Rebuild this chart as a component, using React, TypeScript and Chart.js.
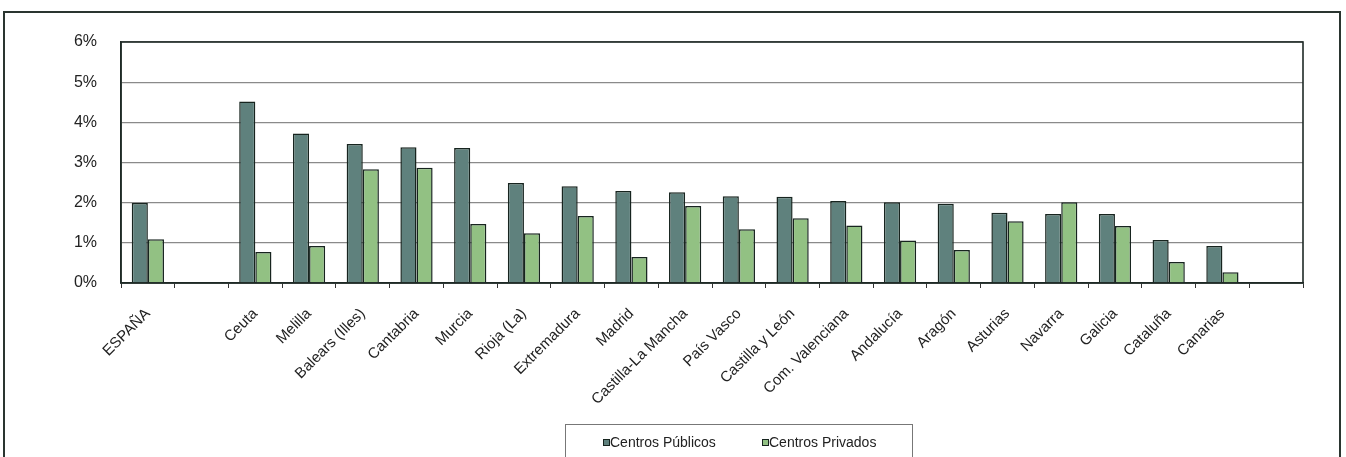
import React, { useEffect, useRef } from "react";
import { Chart, registerables } from "chart.js";

Chart.register(...registerables);

const categories: string[] = [
  "ESPAÑA", "", "Ceuta", "Melilla", "Balears (Illes)", "Cantabria", "Murcia",
  "Rioja (La)", "Extremadura", "Madrid", "Castilla-La Mancha", "País Vasco",
  "Castilla y León", "Com. Valenciana", "Andalucía", "Aragón", "Asturias",
  "Navarra", "Galicia", "Cataluña", "Canarias", "",
];

const publicos: (number | null)[] = [
  1.99, null, 4.52, 3.72, 3.46, 3.38, 3.36, 2.49, 2.41, 2.29, 2.26, 2.16,
  2.15, 2.04, 2.01, 1.97, 1.75, 1.72, 1.72, 1.07, 0.92, null,
];

const privados: (number | null)[] = [
  1.09, null, 0.77, 0.92, 2.83, 2.87, 1.47, 1.24, 1.67, 0.65, 1.92, 1.34,
  1.61, 1.43, 1.06, 0.82, 1.54, 2.01, 1.42, 0.52, 0.27, null,
];

const yTicks: number[] = [0, 1, 2, 3, 4, 5, 6];
const seriesNames: string[] = ["Centros Públicos", "Centros Privados"];

const COLOR_PUB = "#5f817d";
const COLOR_PRIV = "#92c183";
const BORDER = "#17241f";
const FONT = "'Liberation Sans', Arial, sans-serif";

const framePlugin = {
  id: "framePlugin",
  beforeDraw(chart: any) {
    const ctx = chart.ctx;
    ctx.save();
    ctx.fillStyle = "#ffffff";
    ctx.fillRect(0, 0, chart.width, chart.height);
    ctx.restore();
  },
  afterDraw(chart: any) {
    const ctx = chart.ctx;
    const a = chart.chartArea;
    ctx.save();
    // outer frame
    ctx.strokeStyle = "#2a3530";
    ctx.lineWidth = 2;
    ctx.strokeRect(4, 12, 1336, 470);
    // plot area border
    ctx.lineWidth = 1.6;
    ctx.strokeStyle = "#1f2a26";
    ctx.strokeRect(a.left, a.top, a.right - a.left, a.bottom - a.top);
    // legend box
    const lx = 565, ly = 424, lw = 347;
    ctx.lineWidth = 1;
    ctx.strokeStyle = "#777";
    ctx.strokeRect(lx + 0.5, ly + 0.5, lw, 40);
    ctx.font = `14px ${FONT}`;
    ctx.textBaseline = "middle";
    ctx.textAlign = "left";
    const entries = [
      { x: 603, color: COLOR_PUB, label: seriesNames[0] },
      { x: 762, color: COLOR_PRIV, label: seriesNames[1] },
    ];
    entries.forEach((e) => {
      ctx.fillStyle = e.color;
      ctx.fillRect(e.x, 439, 7, 7);
      ctx.strokeStyle = BORDER;
      ctx.strokeRect(e.x + 0.5, 439.5, 6, 6);
      ctx.fillStyle = "#222";
      ctx.fillText(e.label, e.x + 7, 443);
    });
    ctx.restore();
  },
};

export default function App() {
  const ref = useRef<HTMLCanvasElement | null>(null);

  useEffect(() => {
    if (!ref.current) return;
    const chart = new Chart(ref.current, {
      type: "bar",
      data: {
        labels: categories,
        datasets: [
          {
            label: seriesNames[0],
            data: publicos,
            backgroundColor: COLOR_PUB,
            borderColor: BORDER,
            borderWidth: 1.5,
            categoryPercentage: 0.6,
            barPercentage: 1,
          },
          {
            label: seriesNames[1],
            data: privados,
            backgroundColor: COLOR_PRIV,
            borderColor: BORDER,
            borderWidth: 1.5,
            categoryPercentage: 0.6,
            barPercentage: 1,
          },
        ],
      },
      options: {
        animation: false,
        responsive: false,
        maintainAspectRatio: false,
        layout: { padding: { top: 42, right: 43, left: 0, bottom: 29 } },
        plugins: {
          legend: { display: false },
          tooltip: { enabled: false },
          title: { display: false },
        },
        scales: {
          x: {
            type: "category",
            offset: true,
            grid: {
              offset: true,
              drawOnChartArea: false,
              drawTicks: true,
              tickLength: 5,
              color: "#333",
            },
            border: { color: "#1f2a26", width: 1.6 },
            ticks: {
              autoSkip: false,
              minRotation: 45,
              maxRotation: 45,
              padding: 17,
              color: "#222",
              font: { family: FONT, size: 15 },
            },
            afterFit: (s: any) => {
              s.height = 145;
            },
          },
          y: {
            min: 0,
            max: 6,
            afterBuildTicks: (s: any) => {
              s.ticks = yTicks.map((v) => ({ value: v }));
            },
            ticks: {
              padding: 24,
              color: "#222",
              font: { family: FONT, size: 16 },
              callback: (v: any) => `${v}%`,
            },
            grid: { color: "#8a8a8a", lineWidth: 1.2, drawTicks: false },
            border: { color: "#1f2a26", width: 1.6 },
            afterFit: (s: any) => {
              s.width = 121;
            },
          },
        },
      },
      plugins: [framePlugin],
    });
    return () => chart.destroy();
  }, []);

  return (
    <div style={{ position: "fixed", left: 0, top: 0, width: 1346, height: 457 }}>
      <canvas ref={ref} width={1346} height={457} style={{ width: 1346, height: 457 }} />
    </div>
  );
}
